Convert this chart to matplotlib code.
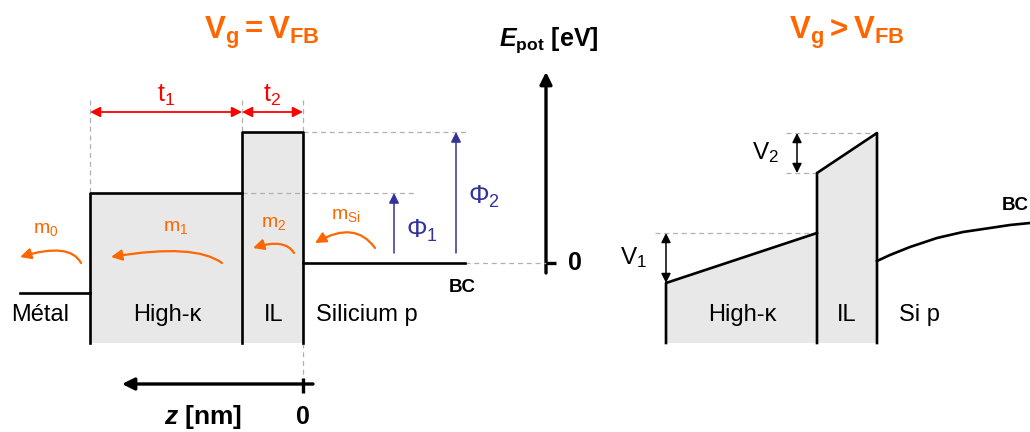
import matplotlib.pyplot as plt
from matplotlib.patches import FancyArrowPatch, Polygon
from matplotlib.path import Path

plt.rcParams['font.family'] = ['Liberation Sans', 'DejaVu Sans']
plt.rcParams['mathtext.fontset'] = 'custom'
plt.rcParams['mathtext.rm'] = 'Liberation Sans'
plt.rcParams['mathtext.it'] = 'Liberation Sans:italic'
plt.rcParams['mathtext.bf'] = 'Liberation Sans:bold'
plt.rcParams['mathtext.bfit'] = 'Liberation Sans:italic:bold'

# ---- schematic geometry (pixel-like units, y grows downward) ----
# flat-band diagram (left)
fb_metal_x = [20, 90]
fb_edges_x = [90, 242, 303]          # high-k start, IL start, IL end
fb_metal_level = 293
fb_hk_level = 193
fb_il_level = 132
fb_si_level = 263
fb_si_end_x = 465
stack_bottom = 343

# biased diagram (right)
bias_edges_x = [666, 817, 877]
bias_hk_levels = [283, 233]          # left, right top of high-k
bias_il_levels = [173, 133]          # left, right top of IL
si_curve_x = [877, 890, 910, 937, 963, 990, 1010, 1030]
si_curve_y = [261, 255, 247, 238, 232, 228, 225, 223]

# energy axis
e_axis_x = 546
e_axis_top = 72
e_axis_bottom = 273
# depth axis
z_axis_y = 384
z_axis_left = 122

# carrier arrows: (start, control, end) and label
carrier_arrows = [
    ((81, 263), (70, 242), (20, 257)),
    ((222, 263), (195, 243), (111, 257)),
    ((294, 253), (285, 238), (253, 248)),
    ((375, 248), (355, 220), (315, 243)),
]
carrier_labels = ['m$_\\mathrm{0}$', 'm$_\\mathrm{1}$', 'm$_\\mathrm{2}$', 'm$_\\mathrm{Si}$']
carrier_label_pos = [(46, 230), (176, 228), (274, 224), (346, 216)]

ORANGE = '#ff6600'
BLUE = '#333399'
RED = '#ff0000'
GRAY = '#b0b0b0'
FILL = '#e8e8e8'
LW = 1.9

fig = plt.figure(figsize=(10.3, 4.32), dpi=100)
ax = fig.add_axes([0, 0, 1, 1])
ax.set_xlim(0, 1030)
ax.set_ylim(432, 0)
ax.axis('off')

x0, x1, x2 = fb_edges_x
# fills
ax.add_patch(Polygon([(x0, stack_bottom), (x0, fb_hk_level), (x1, fb_hk_level), (x1, stack_bottom)],
                     closed=True, facecolor=FILL, edgecolor='none'))
ax.add_patch(Polygon([(x1, stack_bottom), (x1, fb_il_level), (x2, fb_il_level), (x2, stack_bottom)],
                     closed=True, facecolor=FILL, edgecolor='none'))

# dashed guides
dash = dict(color=GRAY, lw=0.9, ls=(0, (4, 3)))
for xe, ytop in zip(fb_edges_x, [fb_hk_level, fb_hk_level, fb_il_level]):
    ax.plot([xe, xe], [100, ytop], **dash)
ax.plot([x2, 466], [fb_il_level, fb_il_level], **dash)
ax.plot([x1, 415], [fb_hk_level, fb_hk_level], **dash)
ax.plot([fb_si_end_x, e_axis_x], [fb_si_level, fb_si_level], **dash)
ax.plot([x2, x2], [stack_bottom, z_axis_y], **dash)

# band edges
ax.plot(fb_metal_x, [fb_metal_level] * 2, color='k', lw=LW)
ax.plot([x0, x0, x1], [stack_bottom, fb_hk_level, fb_hk_level], color='k', lw=LW)
ax.plot([x1, x1, x2, x2], [stack_bottom, fb_il_level, fb_il_level, stack_bottom], color='k', lw=LW)
ax.plot([x2, fb_si_end_x], [fb_si_level] * 2, color='k', lw=LW)

# thickness arrows
for xa, xb, lab in [(x0, x1, 't$_\\mathrm{1}$'), (x1, x2, 't$_\\mathrm{2}$')]:
    ax.add_patch(FancyArrowPatch((xa, 112), (xb, 112), arrowstyle='<|-|>', mutation_scale=15,
                                 color=RED, lw=1.3, shrinkA=0, shrinkB=0))
    ax.text((xa + xb) / 2, 95, lab, color=RED, fontsize=18, ha='center', va='center')

# barrier height arrows
for xa, ytop, lab, lp in [(394, fb_hk_level, 'Φ$_\\mathrm{1}$', (422, 231)),
                          (456, fb_il_level, 'Φ$_\\mathrm{2}$', (484, 197))]:
    ax.add_patch(FancyArrowPatch((xa, 253), (xa, ytop), arrowstyle='-|>', mutation_scale=15,
                                 color=BLUE, lw=1.1, shrinkA=0, shrinkB=0))
    ax.text(*lp, lab, color=BLUE, fontsize=18.5, ha='center', va='center')

# carrier arrows
for (p0, c, p1), lab, lp in zip(carrier_arrows, carrier_labels, carrier_label_pos):
    path = Path([p0, c, p1], [Path.MOVETO, Path.CURVE3, Path.CURVE3])
    ax.add_patch(FancyArrowPatch(path=path, arrowstyle='-|>', mutation_scale=16,
                                 color=ORANGE, lw=1.6))
    ax.text(*lp, lab, color=ORANGE, fontsize=14, ha='center', va='center')

# region labels (left)
ax.text(40, 315, 'Métal', fontsize=17, ha='center', va='center')
ax.text(167, 315, 'High-κ', fontsize=17, ha='center', va='center')
ax.text(274, 315, 'IL', fontsize=17, ha='center', va='center')
ax.text(316, 315, 'Silicium p', fontsize=17, ha='left', va='center')
ax.text(462, 287, 'BC', fontsize=13.5, fontweight='bold', ha='center', va='center')

# energy axis
ax.add_patch(FancyArrowPatch((e_axis_x, e_axis_bottom), (e_axis_x, e_axis_top), arrowstyle='-|>',
                             mutation_scale=18, color='k', lw=2.4, shrinkA=0, shrinkB=0))
ax.plot([e_axis_x, 556], [fb_si_level] * 2, color='k', lw=2.4, solid_capstyle='butt')
ax.text(575, fb_si_level, '0', fontsize=18, fontweight='bold', ha='center', va='center')
ax.text(549, 40, '$\\mathbfit{E}_\\mathbf{pot}$ [eV]', fontsize=18, fontweight='bold',
        ha='center', va='center')

# depth axis
ax.add_patch(FancyArrowPatch((313, z_axis_y), (z_axis_left, z_axis_y), arrowstyle='-|>',
                             mutation_scale=18, color='k', lw=2.4, shrinkA=0, shrinkB=0))
ax.plot([x2, x2], [378, 393], color='k', lw=2.4, solid_capstyle='butt')
ax.text(203, 417, '$\\mathbfit{z}$ [nm]', fontsize=19, fontweight='bold', ha='center', va='center')
ax.text(x2, 417, '0', fontsize=18, fontweight='bold', ha='center', va='center')

# titles
ax.text(262, 33, '$\\mathbf{V_g = V_{FB}}$', color=ORANGE, fontsize=22.5, ha='center', va='center')
ax.text(847, 33, '$\\mathbf{V_g > V_{FB}}$', color=ORANGE, fontsize=22.5, ha='center', va='center')

# ---- biased diagram ----
b0, b1, b2 = bias_edges_x
ax.add_patch(Polygon([(b0, stack_bottom), (b0, bias_hk_levels[0]), (b1, bias_hk_levels[1]), (b1, stack_bottom)],
                     closed=True, facecolor=FILL, edgecolor='none'))
ax.add_patch(Polygon([(b1, stack_bottom), (b1, bias_il_levels[0]), (b2, bias_il_levels[1]), (b2, stack_bottom)],
                     closed=True, facecolor=FILL, edgecolor='none'))
ax.plot([655, b1], [bias_hk_levels[1]] * 2, **dash)
ax.plot([786, b1], [bias_il_levels[0]] * 2, **dash)
ax.plot([786, b2], [bias_il_levels[1]] * 2, **dash)
ax.plot([b0, b0, b1], [stack_bottom, bias_hk_levels[0], bias_hk_levels[1]], color='k', lw=LW)
ax.plot([b1, b1, b2, b2], [stack_bottom, bias_il_levels[0], bias_il_levels[1], stack_bottom], color='k', lw=LW)
ax.plot(si_curve_x, si_curve_y, color='k', lw=LW)

for xa, ya, yb, lab, lp in [(b0, bias_hk_levels[1], bias_hk_levels[0], 'V$_\\mathrm{1}$', (634, 258)),
                            (797, bias_il_levels[1], bias_il_levels[0], 'V$_\\mathrm{2}$', (766, 153))]:
    ax.add_patch(FancyArrowPatch((xa, ya), (xa, yb), arrowstyle='<|-|>', mutation_scale=14,
                                 color='k', lw=1.1, shrinkA=0, shrinkB=0))
    ax.text(*lp, lab, fontsize=17.5, ha='center', va='center')

ax.text(742, 315, 'High-κ', fontsize=17, ha='center', va='center')
ax.text(847, 315, 'IL', fontsize=17, ha='center', va='center')
ax.text(919, 315, 'Si p', fontsize=17, ha='center', va='center')
ax.text(1015, 206, 'BC', fontsize=13.5, fontweight='bold', ha='center', va='center')

fig.savefig('out.png', dpi=100)
